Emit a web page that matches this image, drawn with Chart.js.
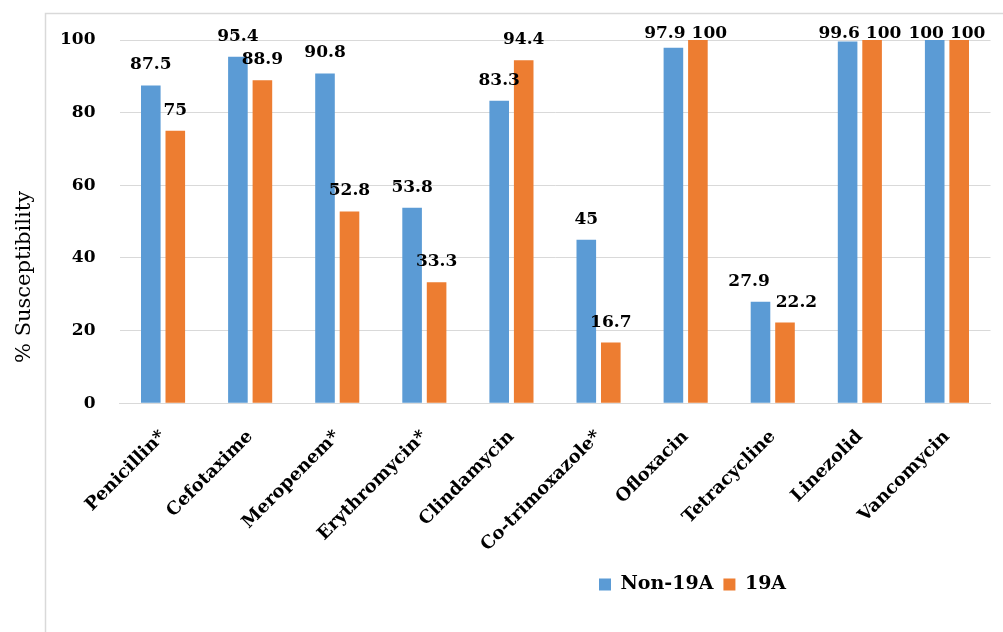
<!DOCTYPE html>
<html>
<head>
<meta charset="utf-8">
<script src="https://cdn.jsdelivr.net/npm/chart.js@4.4.1/dist/chart.umd.min.js"></script>
<style>
  html, body { margin: 0; padding: 0; background: #ffffff; }
  #wrap { position: relative; width: 1003px; height: 632px; }
</style>
</head>
<body>
<div id="wrap"><canvas id="chart"></canvas></div>
<script>
// Antibiotic susceptibility (%) of non-19A and 19A isolates
const antibiotics = ['Penicillin*', 'Cefotaxime', 'Meropenem*', 'Erythromycin*', 'Clindamycin',
                     'Co-trimoxazole*', 'Ofloxacin', 'Tetracycline', 'Linezolid', 'Vancomycin'];
const non19A  = [87.5, 95.4, 90.8, 53.8, 83.3, 45, 97.9, 27.9, 99.6, 100];
const sero19A = [75, 88.9, 52.8, 33.3, 94.4, 16.7, 100, 22.2, 100, 100];
const yTicks = [0, 20, 40, 60, 80, 100];
const seriesNames = ['Non-19A', '19A'];
const yTitle = '% Susceptibility';

const SERIF = "'DejaVu Serif', serif";
const BLUE = '#5B9BD5';
const ORANGE = '#ED7D31';
const GRID = '#d9d9d9';

// light frame around the figure
const framePlugin = {
  id: 'frame',
  beforeDraw(chart) {
    const ctx = chart.ctx;
    ctx.save();
    ctx.fillStyle = '#ffffff';
    ctx.fillRect(0, 0, chart.width, chart.height);
    ctx.strokeStyle = GRID;
    ctx.lineWidth = 1.5;
    ctx.beginPath();
    ctx.moveTo(45.5, chart.height + 2);
    ctx.lineTo(45.5, 13.5);
    ctx.lineTo(chart.width + 2, 13.5);
    ctx.stroke();
    ctx.restore();
  }
};

// vertical axis title, centred on the whole left column
const yTitlePlugin = {
  id: 'yTitle',
  afterDraw(chart) {
    const ctx = chart.ctx;
    ctx.save();
    ctx.translate(25, 277);
    ctx.rotate(-Math.PI / 2);
    ctx.font = '21px ' + SERIF;
    ctx.fillStyle = '#000';
    ctx.textAlign = 'center';
    ctx.textBaseline = 'middle';
    ctx.fillText(yTitle, 0, 0);
    ctx.restore();
  }
};

// value labels above bars; pairs that collide are spread apart sideways
const valueLabelPlugin = {
  id: 'valueLabels',
  afterDatasetsDraw(chart) {
    const ctx = chart.ctx;
    const area = chart.chartArea;
    ctx.save();
    ctx.font = 'bold 17px ' + SERIF;
    ctx.fillStyle = '#000';
    ctx.textAlign = 'center';
    ctx.textBaseline = 'alphabetic';
    const metas = [chart.getDatasetMeta(0), chart.getDatasetMeta(1)];
    const gap = 6;
    for (let i = 0; i < antibiotics.length; i++) {
      const items = metas.map((meta, d) => {
        const el = meta.data[i];
        const v = chart.data.datasets[d].data[i];
        const text = String(v);
        return {
          text,
          x: el.x,
          y: Math.max(el.y - 16, area.top - 2),
          w: ctx.measureText(text).width
        };
      });
      const [a, b] = items;
      if (Math.abs(a.y - b.y) < 22 && a.x + a.w / 2 + gap > b.x - b.w / 2) {
        const mid = (a.x + b.x) / 2;
        const total = a.w + b.w + gap;
        a.x = mid - total / 2 + a.w / 2;
        b.x = mid + total / 2 - b.w / 2;
      }
      items.forEach(it => ctx.fillText(it.text, it.x, it.y));
    }
    ctx.restore();
  }
};

// legend sits under the right half of the plot
const legendPlacePlugin = {
  id: 'legendPlace',
  afterLayout(chart) {
    const lg = chart.legend;
    if (!lg) return;
    const h = lg.height;
    lg.left = 589;
    lg.top = 565;
    lg.bottom = lg.top + h;
  }
};

new Chart(document.getElementById('chart'), {
  type: 'bar',
  data: {
    labels: antibiotics,
    datasets: [
      { label: seriesNames[0], data: non19A, backgroundColor: BLUE, borderWidth: 0 },
      { label: seriesNames[1], data: sero19A, backgroundColor: ORANGE, borderWidth: 0 }
    ]
  },
  options: {
    responsive: true,
    maintainAspectRatio: false,
    animation: false,
    events: [],
    layout: { padding: { top: 40, right: 12.5, left: 0, bottom: 0 } },
    datasets: {
      bar: { categoryPercentage: 0.5625, barPercentage: 0.8 }
    },
    scales: {
      x: {
        grid: { display: false },
        border: { display: true, color: GRID, width: 1 },
        ticks: {
          minRotation: 45,
          maxRotation: 45,
          autoSkip: false,
          padding: 15,
          color: '#000',
          font: { family: SERIF, size: 18, weight: 'bold' }
        },
        afterFit(scale) { scale.height = 189.8; }
      },
      y: {
        min: 0,
        max: 100,
        afterBuildTicks(scale) { scale.ticks = yTicks.map(v => ({ value: v })); },
        grid: { color: GRID, lineWidth: 1, drawTicks: false },
        border: { display: false },
        ticks: {
          padding: 24,
          color: '#000',
          font: { family: SERIF, size: 17, weight: 'bold' }
        },
        afterFit(scale) { scale.width = 119.5; }
      }
    },
    plugins: {
      tooltip: { enabled: false },
      title: { display: false },
      legend: {
        position: 'bottom',
        align: 'start',
        labels: {
          boxWidth: 12,
          boxHeight: 12,
          padding: 10,
          color: '#000',
          font: { family: SERIF, size: 19, weight: 'bold' }
        }
      }
    }
  },
  plugins: [framePlugin, yTitlePlugin, valueLabelPlugin, legendPlacePlugin]
});
</script>
</body>
</html>
